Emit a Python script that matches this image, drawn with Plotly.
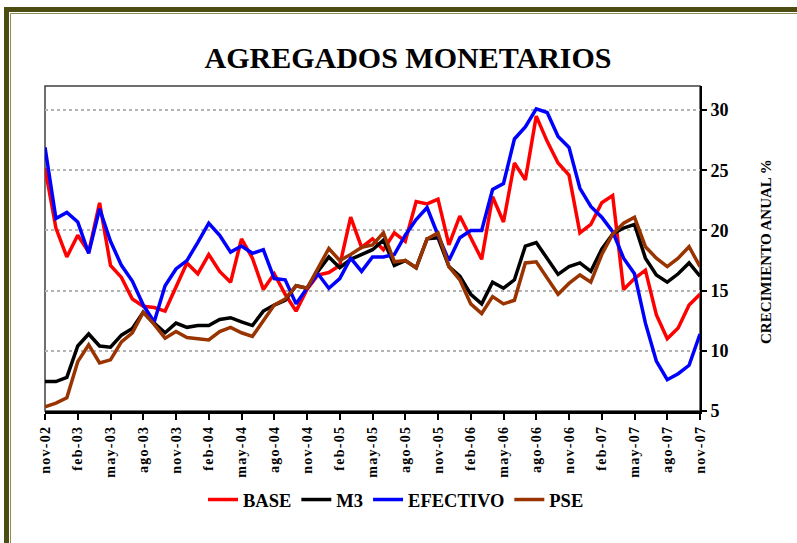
import plotly.graph_objects as go

# Monthly periods, nov-02 .. nov-07
MESES = ["ene", "feb", "mar", "abr", "may", "jun", "jul", "ago", "sep", "oct", "nov", "dic"]
periodos = [f"{MESES[(10 + i) % 12]}-{2 + (10 + i) // 12:02d}" for i in range(61)]

etiquetas_x = ["nov-02", "feb-03", "may-03", "ago-03", "nov-03", "feb-04", "may-04",
               "ago-04", "nov-04", "feb-05", "may-05", "ago-05", "nov-05", "feb-06",
               "may-06", "ago-06", "nov-06", "feb-07", "may-07", "ago-07", "nov-07"]
ticks_y = [5, 10, 15, 20, 25, 30]

# Annual growth (%) of each monetary aggregate
base = [25.2, 20.2, 17.8, 19.6, 18.2, 22.3, 17.1, 16.1, 14.3, 13.7, 13.6, 13.3, 15.3,
        17.3, 16.4, 18.0, 16.6, 15.7, 19.3, 17.7, 15.1, 16.4, 14.7, 13.3, 15.1, 16.3,
        16.5, 17.1, 21.1, 18.6, 19.3, 18.4, 19.8, 19.1, 22.4, 22.2, 22.6, 18.8, 21.2,
        19.4, 17.6, 22.8, 20.7, 25.6, 24.2, 29.5, 27.4, 25.6, 24.6, 19.8, 20.5, 22.3,
        22.9, 15.1, 16.0, 16.7, 13.0, 11.0, 11.9, 13.8, 14.7]
m3 = [7.45, 7.45, 7.8, 10.4, 11.4, 10.4, 10.3, 11.3, 11.85, 13.2, 12.3, 11.5, 12.3,
      11.95, 12.1, 12.1, 12.6, 12.75, 12.4, 12.1, 13.3, 13.8, 14.2, 15.4, 15.2, 16.6,
      17.8, 16.9, 17.6, 18.0, 18.4, 19.2, 17.1, 17.5, 16.9, 19.3, 19.4, 17.0, 16.2,
      14.7, 13.9, 15.7, 15.2, 15.9, 18.7, 19.0, 17.7, 16.35, 17.0, 17.3, 16.6, 18.45,
      19.7, 20.2, 20.5, 17.7, 16.3, 15.7, 16.4, 17.3, 16.2]
efectivo = [26.9, 21.0, 21.5, 20.7, 18.1, 21.8, 19.1, 17.1, 15.8, 13.8, 12.4, 15.4, 16.8,
            17.5, 19.0, 20.6, 19.6, 18.2, 18.7, 18.1, 18.4, 16.0, 15.9, 13.9, 15.2, 16.4,
            15.2, 16.0, 17.7, 16.6, 17.8, 17.8, 18.0, 19.6, 20.9, 21.9, 19.6, 17.5, 19.4,
            20.0, 20.0, 23.4, 23.9, 27.6, 28.6, 30.1, 29.8, 27.8, 26.9, 23.5, 22.0, 21.1,
            19.9, 17.7, 16.4, 12.3, 9.15, 7.6, 8.1, 8.8, 11.4]
pse = [5.35, 5.65, 6.1, 9.1, 10.5, 9.0, 9.25, 10.75, 11.5, 13.2, 12.2, 11.05, 11.6,
       11.1, 11.0, 10.9, 11.6, 11.95, 11.5, 11.2, 12.5, 13.8, 14.3, 15.4, 15.2, 16.8,
       18.5, 17.5, 18.0, 18.6, 18.8, 19.8, 17.4, 17.5, 16.9, 19.3, 19.8, 17.0, 15.9,
       13.9, 13.1, 14.5, 13.9, 14.2, 17.3, 17.4, 16.0, 14.7, 15.6, 16.3, 15.7, 18.0,
       19.7, 20.6, 21.1, 18.65, 17.7, 17.0, 17.7, 18.65, 17.0]

series = [("BASE", base, "#ff0000"),
          ("M3", m3, "#000000"),
          ("EFECTIVO", efectivo, "#0000ff"),
          ("PSE", pse, "#993300")]

FONT = "Liberation Serif"
W, H = 797, 543
L, R, T, B = 45, 97, 86, 132          # plot area: x 45..700, y 86..411
PW, PH = W - L - R, H - T - B


def px(x):
    return (x - L) / PW


def py(y):
    return (H - B - y) / PH


fig = go.Figure()
for nombre, valores, color in series:
    fig.add_trace(go.Scatter(x=periodos, y=valores, name=f"<b>{nombre}</b>", mode="lines",
                             line=dict(color=color, width=3.5)))

fig.update_layout(
    width=W, height=H, autosize=False,
    margin=dict(l=L, r=R, t=T, b=B),
    paper_bgcolor="white", plot_bgcolor="white",
    font=dict(family=FONT, color="black"),
    title=dict(text="<b>AGREGADOS MONETARIOS</b>", x=408 / W, xanchor="center",
               y=1 - 57 / H, yanchor="middle", font=dict(size=30, family=FONT)),
    showlegend=True,
    legend=dict(orientation="h", x=px(396), xanchor="center", y=py(500),
                yanchor="middle", font=dict(size=18.5, family=FONT),
                bgcolor="rgba(0,0,0,0)", itemwidth=30, tracegroupgap=0),
)

fig.update_xaxes(
    type="category", range=[0, 60],
    tickmode="array", tickvals=etiquetas_x, ticktext=[f"<b>{t}</b>" for t in etiquetas_x],
    tickangle=-90, tickfont=dict(size=14, family=FONT),
    ticks="outside", ticklen=6, tickwidth=1.5, tickcolor="black",
    showline=True, linecolor="black", linewidth=3,
    showgrid=False, zeroline=False, automargin=False,
)
fig.update_yaxes(
    side="right", range=[5, 32],
    tickmode="array", tickvals=ticks_y, ticktext=[f"<b>{v}</b>" for v in ticks_y],
    tickfont=dict(size=18, family=FONT),
    ticks="outside", ticklen=5, tickwidth=1.5, tickcolor="black",
    showline=True, linecolor="black", linewidth=2,
    showgrid=True, gridcolor="#b4b4b4", gridwidth=2, griddash="dot",
    zeroline=False, automargin=False,
)

# Plot-area frame (left and top edges)
fig.add_shape(type="rect", xref="paper", yref="paper", x0=0, x1=1, y0=0, y1=1,
              line=dict(color="#404040", width=1.5), layer="below")

# Outer chart frame, double olive line
fig.add_shape(type="rect", xref="paper", yref="paper",
              x0=px(6.5), x1=px(830), y0=py(600), y1=py(9.5),
              line=dict(color="#4d4d12", width=5))
fig.add_shape(type="rect", xref="paper", yref="paper",
              x0=px(10.5), x1=px(830), y0=py(600), y1=py(13.5),
              line=dict(color="#8c8c55", width=1))

# Vertical axis title
fig.add_annotation(text="<b>CRECIMIENTO ANUAL %</b>", xref="paper", yref="paper",
                   x=px(766), y=py(251), textangle=-90, showarrow=False,
                   font=dict(size=15, family=FONT), xanchor="center", yanchor="middle")

post = """
var gd = document.getElementById('{plot_id}');
gd.querySelectorAll('.xtick text').forEach(function (t) { t.style.letterSpacing = '1.3px'; });
"""
fig.write_html("out.html", post_script=post)
